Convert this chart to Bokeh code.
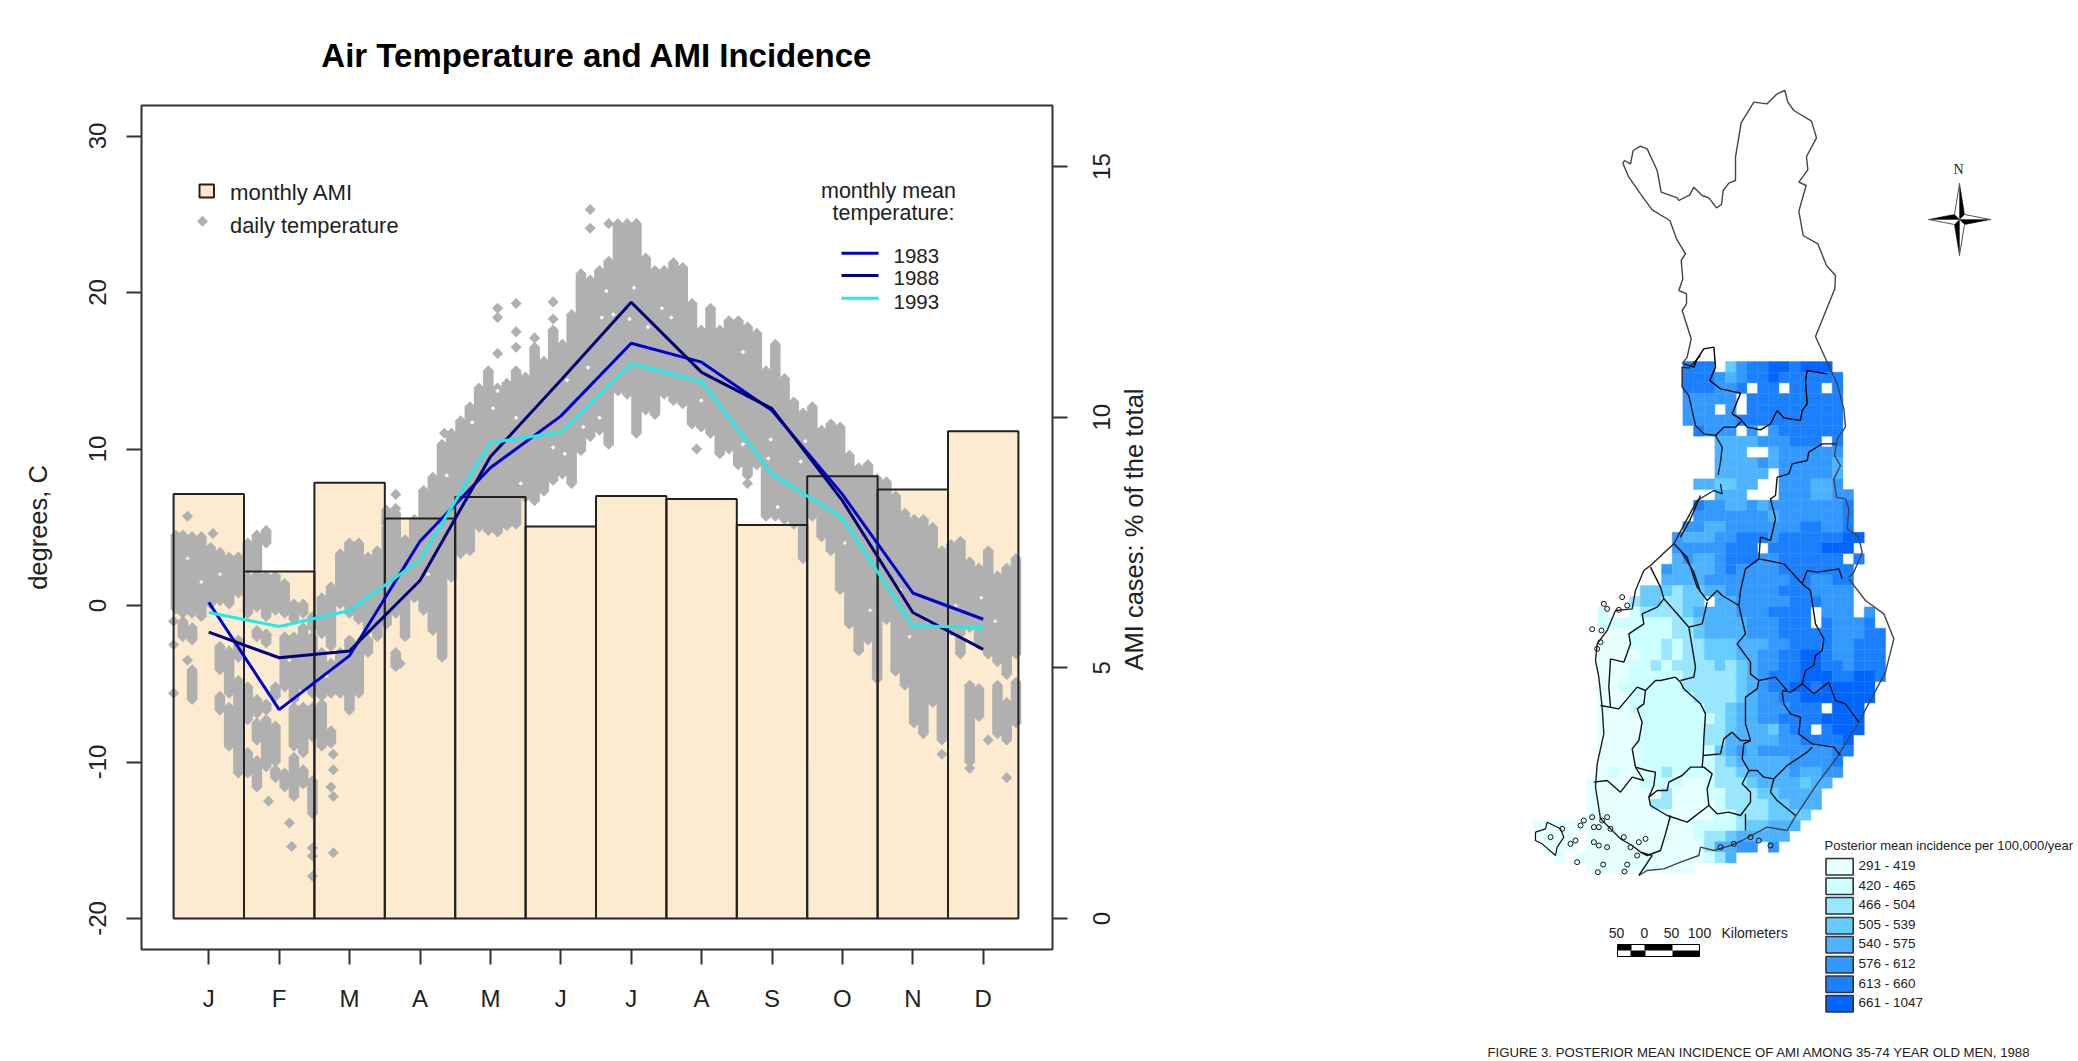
from math import pi
from bokeh.embed import file_html
from bokeh.layouts import row
from bokeh.models import ColumnDataSource, FixedTicker, LinearAxis, Range1d, Label
from bokeh.plotting import figure
from bokeh.resources import INLINE

SANS = "Liberation Sans"

# ---------------------------------------------------------------- left chart data
months = ["J", "F", "M", "A", "M", "J", "J", "A", "S", "O", "N", "D"]
month_no = list(range(1, 13))
ami_pct = [8.47, 6.92, 8.69, 7.98, 8.41, 7.82, 8.43, 8.37, 7.85, 8.82, 8.56, 9.72]
ami_ticks = [0, 5, 10, 15]
t1983 = [0.2, -6.65, -3.2, 4.1, 8.8, 12.1, 16.76, 15.55, 12.46, 7.1, 0.8, -0.88]
t1988 = [-1.7, -3.34, -2.9, 1.6, 9.5, 14.4, 19.38, 14.9, 12.58, 6.7, -0.45, -2.8]
t1993 = [-0.45, -1.34, -0.32, 2.9, 10.4, 11.07, 15.45, 14.3, 8.4, 5.6, -1.3, -1.4]

# daily temperature cloud: (day of year, warmest, coldest) for each contiguous run of points
runs_jan = [(1, 4.5, -.2), (4, 4.5, -.5), (4, -1, -2), (8, 4.4, -.5), (8, -1.4, -2.2), (8, -4.1, -6),
            (12, 4.4, -.7), (16, 3.7, .1), (20, 3.4, .3), (20, -2.6, -4.1), (20, -5.8, -6.7),
            (24, 3.1, .1), (24, -2.9, -5.6), (24, -6.5, -9), (28, 3.1, .8), (28, -2.2, -3.3), (28, -4.8, -10.7)]
runs_feb = [(32, 4, 2.3), (32, 1.8, -.5), (32, -5.2, -7.3), (32, -9.4, -10.7), (36, 4.5, 2.3), (36, 2, -.1),
            (36, -1.6, -2), (36, -6, -6.9), (36, -7.5, -8.6), (36, -9.9, -11.6), (40, 4.8, 4), (40, 1.9, -.7),
            (40, -1.8, -2.4), (40, -6.3, -6.7), (40, -7.3, -10.3), (44, 1.9, -.3), (44, -5.2, -5.8),
            (44, -7.7, -10), (44, -10.5, -11), (48, 1.4, -.5), (48, -2, -5.2), (48, -10.7, -11.6),
            (52, .1, -.9), (52, -2, -6), (52, -6.5, -9), (52, -9.7, -12.2), (56, .1, -.5), (56, -1.4, -5.2),
            (56, -6.5, -9.4), (56, -10.5, -11.4)]
runs_mar = [(60, -.7, -1.4), (60, -2, -5.6), (60, -6.5, -8.4), (60, -11.2, -13.3), (64, .5, -1.8), (64, -3, -5.8),
            (64, -6.3, -9), (68, 1.2, -2.6), (68, -3.7, -5.6), (68, -8, -8.8), (72, 3.3, .1), (72, -3, -5.6),
            (76, 4, -.5), (76, -2.2, -6.7), (80, 4, -.9), (80, -2.4, -5.6), (84, 3.1, -1.6), (84, -2.2, -3),
            (88, 3.5, -2)]
runs_apr = [(92, 6.1, 5.2), (92, 5, -1.2), (96, 5.9, -.5), (96, -3, -3.9), (100, 4.2, -2), (104, 5.5, .5),
            (108, 7.35, -.3), (112, 8.2, -1.6), (116, 10.3, -3.3), (120, 11, 1.8)]
runs_may = [(124, 11.8, 3.3), (128, 12.7, 3.5), (132, 13.9, 5), (136, 15, 4.8), (140, 13.9, 4.7), (144, 14.2, 5.1),
            (148, 15, 5.2)]
runs_jun = [(152, 14.6, 6.9), (156, 16.5, 6.7), (160, 15.6, 7.3), (164, 17.6, 8), (168, 16.7, 8.4), (172, 18.6, 7.8),
            (176, 21.2, 9.9), (180, 20.8, 10.8)]
runs_jul = [(184, 21.4, 11.2), (188, 22, 10.3), (192, 24.4, 13.7), (196, 24.4, 13.5), (200, 24.4, 11), (204, 22.2, 12.5),
            (208, 21.4, 12.2), (212, 21.4, 13.5)]
runs_aug = [(216, 21.9, 13.1), (220, 21.6, 12.9), (224, 19.3, 11.6), (228, 17.6, 11.4), (232, 19, 11), (236, 17.6, 9.7),
            (240, 18.2, 10)]
runs_sep = [(244, 18.2, 9), (248, 17.8, 8.3), (252, 17.4, 9), (256, 15, 5.7), (260, 16.7, 5.7), (264, 14.5, 5.5),
            (268, 13, 5.2), (272, 12.3, 3)]
runs_oct = [(276, 12.7, 5.7), (280, 11.2, 4.4), (284, 11.6, 3.5), (288, 11.4, 1), (292, 9.6, -1.2), (296, 8.8, -2.9),
            (300, 9, -2.2), (304, 8.1, -4.7)]
runs_nov = [(308, 7.9, -.9), (312, 7, -4.2), (316, 5.9, -5.1), (320, 5.5, -7.5), (324, 5.5, -8.2), (328, 5, -6.2),
            (332, 3.5, -8.6)]
runs_dec = [(336, 3.9, -1.6), (340, 4.1, -3.1), (344, 2.8, -1.4), (344, -5.1, -10), (348, 2.4, -2.5), (348, -5.3, -7.1),
            (352, 3.5, -3.1), (356, 1.9, -3.6), (356, -5.1, -8.2), (360, 2.4, -4.4), (360, -6.2, -8.6), (364, 3, -3.1),
            (364, -4.9, -7.5)]
# single days standing apart from the cloud
lone_day = [6, 6, 17, 0, 0, 0, 41, 50, 51, 60, 60, 60, 69, 69, 68, 69, 69, 96, 96, 98, 117,
            140, 140, 140, 148, 148, 148, 156, 164, 164, 180, 180, 188, 226, 248, 332, 344, 352, 360]
lone_t = [5.7, -3.5, 4.6, -1, -2.5, -5.6, -12.5, -13.9, -15.4, -15.5, -16, -17.3, -9.5, -10.5, -11.6, -12.2, -15.8,
          7.1, 6.2, -3.7, 11, 19, 18.4, 16.1, 19.3, 17.5, 16.5, 17.1, 19.4, 18.3, 24.1, 25.3, 24.4, 10, 7.8, -9.5, -10.4, -8.6, -11]
# small gaps seen inside the cloud, above the bars (white) and over the bars (bar colour)
gap_day = [187, 185, 190, 179, 170, 138, 140, 148, 129, 118, 150, 164, 169, 177, 184, 197, 199, 205, 211, 215, 228,
           246, 258, 246, 257, 271, 273, 261]
gap_t = [20.1, 18.4, 18.6, 15.2, 14.4, 12.6, 13.7, 12, 11.7, 8.3, 7.8, 10.1, 9.7, 11.4, 12, 18.3, 20.3, 17.8, 19, 18.4, 13.1,
         16.2, 10.6, 10.3, 9.4, 9.2, 10.5, 6.3]
gap_day_bar = [290, 301, 318, 338, 349, 355, 20, 12, 6, 50, 66, 110, 314, 326, 342]
gap_t_bar = [4, -.3, -2, 0, .5, -1, 2, 1.5, 3, -3.5, -4.5, 2, 1, -1, -2]

# ---------------------------------------------------------------- right map data
class_colors = ["#E6FFFF", "#CCFFFF", "#99E6FF", "#66CCFF", "#4DB3FF", "#3399FF", "#1A80FF", "#0066FF"]
class_labels = ["291 - 419", "420 - 465", "466 - 504", "505 - 539", "540 - 575", "576 - 612", "613 - 660", "661 - 1047"]
grid_rows = [
    "..............777.4677887888",
    "..............777656778777777",
    "..............777667.77.777.7",
    "..............66666.777777777",
    "..............666.6.777777777",
    "..............666667777777777",
    "...............7666.6.6777777",
    ".................5555666777.7",
    ".................555..5666666",
    ".................555565666665",
    ".................55555.666665",
    "...............554455..666556",
    ".................555...6665566",
    "...............766556566666667",
    "...............666666656666667",
    "..............6655666666677667",
    ".............655566777677777788",
    ".............66666777.77777888",
    ".............5655677766777777.7",
    "............655556766667777777",
    "............555566666666776677",
    "..........44434455666667776666",
    ".........3443344.5566666777666",
    "......2..23333455556667777.666.6",
    "......22222223345555666777.76667",
    ".......11222233455556667777766677",
    "......111222323344455566777766777",
    "......111122323344455667788766777",
    "......111223233334345667788776777",
    "......111222223333345677788877887",
    "......11222222333334567788788888",
    "......11122222233334566778888888",
    "......111222222233455666777.888",
    "......1111222222234556677778888",
    "......11112222223345554677.7888",
    "......111122222233555556677778",
    "......111122222224565666666677",
    "......11112222222345555566667",
    "......12111232222334555565566",
    ".....11111222211233345555455",
    ".....1111111311122333445555",
    ".....1111113311112333344555",
    ".....111111111111223334444",
    "1111111111111112222344555",
    "1111.1111111111233455555",
    ".111.1111111111135566.6",
    "..1.111111111111235",
    ".....1111111111",
]
grid_x0, grid_y0, grid_cell = 1533.0, 361.0, 10.67

# outlines: crop-local points and the crop's origin (map units are 1/3 of a crop unit)
finland_north = [(395, 850), (410, 830), (422, 775), (395, 690), (408, 670), (408, 640), (385, 630), (397, 595), (392, 540),
                 (405, 520), (378, 475), (358, 420), (305, 388), (270, 340), (235, 290), (217, 248), (222, 240), (240, 250),
                 (248, 210), (270, 197), (290, 205), (320, 270), (332, 335), (380, 352), (385, 360), (418, 343), (430, 320),
                 (455, 345), (475, 352), (498, 382), (513, 372), (518, 330), (535, 308), (555, 300), (555, 230), (572, 127),
                 (610, 65), (650, 70), (680, 40), (703, 30), (712, 65), (730, 90), (783, 122), (798, 172), (768, 228),
                 (772, 268), (745, 305), (767, 315), (745, 392), (758, 465), (802, 490), (828, 555), (855, 585), (853, 625),
                 (795, 768), (830, 845), (860, 910), (880, 985), (885, 1040)]
finland_east = [(495, 215), (470, 250), (462, 300), (480, 330), (460, 370), (468, 425), (495, 430), (505, 460), (500, 520),
                (535, 545), (545, 590), (520, 650), (505, 665)]
finland_south = [(1045, 295), (1095, 360), (1150, 400), (1180, 475), (1155, 575), (1075, 725), (1010, 830), (950, 910),
                 (880, 1015), (860, 1050), (800, 1040), (725, 1080), (690, 1095), (640, 1110), (600, 1100), (595, 1125),
                 (540, 1145), (490, 1165), (440, 1170), (415, 1185)]
finland_west = [(415, 1185), (455, 1125), (420, 1115), (395, 1095), (360, 1075), (300, 1015), (285, 920), (290, 850), (310, 760),
                (305, 680), (295, 590), (285, 540), (290, 490), (320, 450), (345, 390), (395, 385), (405, 330), (430, 270),
                (450, 255), (520, 190), (560, 115), (590, 60), (640, 30), (665, 40), (660, 10)]
finland_nw = [(113, 358), (120, 320), (125, 275), (105, 240), (70, 235), (45, 210), (25, 120), (5, 95), (5, 35), (25, 38),
              (60, 0)]
lapland_z4 = [(400, 850), (430, 860), (440, 835), (460, 805), (490, 800), (495, 860), (478, 900), (510, 925), (570, 938), (545, 1000),
              (570, 1015), (590, 1040), (630, 1048), (660, 1030), (680, 990), (700, 1012), (750, 1020), (755, 990), (770, 970),
              (765, 900), (770, 870), (830, 880)]
borders_z10 = [[(105, 240), (130, 215), (165, 215), (185, 195)],
               [(235, 610), (240, 545), (270, 555), (285, 490), (270, 430), (285, 420), (290, 365), (325, 355), (335, 325), (380, 315),
                (385, 290), (425, 265), (465, 265)],
               [(60, 420), (30, 490), (0, 545)],
               [(0, 585), (40, 650), (60, 710)]]
borders_z5 = [[(520, 190), (560, 230), (590, 320), (620, 360), (650, 330), (665, 345), (715, 375), (720, 330), (735, 265), (775, 235)],
              [(775, 235), (850, 250), (905, 310), (920, 270), (950, 275), (1015, 265), (1025, 295)],
              [(905, 310), (930, 330), (945, 430), (970, 475), (965, 510), (945, 525), (940, 555), (915, 570), (905, 610), (885, 625),
               (870, 635), (845, 630)],
              [(715, 375), (735, 460), (710, 490), (750, 545), (750, 580), (775, 600), (825, 590), (860, 630)],
              [(775, 600), (770, 625), (735, 650), (735, 730), (750, 780)],
              [(845, 635), (850, 670), (870, 700), (900, 710), (895, 760), (935, 790), (1000, 800), (1020, 825)],
              [(905, 610), (940, 640), (985, 605), (1005, 660), (1035, 670), (1075, 725)],
              [(935, 800), (920, 815), (860, 855), (820, 895), (790, 890), (770, 870), (745, 870), (725, 835), (730, 790), (750, 780)],
              [(820, 895), (810, 935), (830, 960), (885, 1005)],
              [(745, 870), (725, 910), (750, 935), (750, 965), (720, 1005), (685, 995), (650, 1000), (625, 975), (620, 925), (635, 880),
               (610, 860), (570, 860), (545, 885), (505, 905), (500, 930), (470, 930), (445, 950), (450, 975), (500, 1005), (560, 1025),
               (625, 975)],
              [(735, 1000), (735, 1050)],
              [(605, 860), (608, 825), (660, 820), (670, 775), (695, 755), (720, 780), (750, 780)],
              [(608, 825), (610, 775), (615, 700), (600, 670), (550, 625), (540, 605), (525, 590), (480, 600), (465, 600), (435, 630),
               (410, 620), (355, 685), (300, 675)],
              [(435, 630), (430, 670), (410, 685), (425, 725), (415, 780), (395, 805), (405, 860), (440, 870), (465, 875), (460, 915),
               (445, 950)],
              [(405, 860), (430, 900), (395, 890), (360, 935), (320, 900), (280, 905)],
              [(330, 535), (325, 620), (330, 680)],
              [(330, 535), (370, 545), (390, 490), (385, 460), (430, 430), (425, 400), (470, 380), (490, 355), (530, 400), (565, 440), (605, 430)],
              [(450, 260), (480, 320), (490, 355)],
              [(565, 440), (585, 560), (580, 590), (540, 600)],
              [(605, 430), (620, 365)],
              [(510, 1005), (495, 1060), (480, 1110), (440, 1125), (420, 1115)]]
aland_z11 = [(15, 755), (45, 745), (50, 725), (90, 745), (100, 770), (80, 800), (75, 825), (35, 790), (15, 780), (15, 755)]
islands_z11 = [(185, 146), (213, 150), (210, 185), (200, 205), (220, 70), (230, 85), (275, 50), (290, 75), (265, 88), (140, 845),
               (218, 852), (202, 875), (282, 873), (290, 852), (230, 710), (160, 720), (185, 710), (190, 740), (205, 740), (240, 745),
               (135, 780), (120, 790), (190, 785), (205, 795), (230, 800), (280, 770), (325, 785), (345, 775), (320, 825), (570, 800),
               (610, 790), (660, 770), (720, 795), (685, 780), (95, 745), (60, 770), (150, 735), (215, 720), (300, 800)]

# ---------------------------------------------------------------- left chart
FRAME = (141, 1052, 105, 949)        # left, right, top, bottom of the frame on the page
TOTAL_W, TOTAL_H, LEFT_W = 2078, 1061, 1072


def X(px):
    return 1 + (px - 208.3) / 70.4


def Y(py):
    return (605 - py) / 15.65


def month_pos(day):
    return 0.5 + day / 30.42


p = figure(width=LEFT_W, height=TOTAL_H, output_backend="svg", toolbar_location=None,
           x_range=Range1d(X(FRAME[0]), X(FRAME[1])), y_range=Range1d(Y(FRAME[3]), Y(FRAME[2])),
           min_border_left=FRAME[0], min_border_right=LEFT_W - FRAME[1],
           min_border_top=FRAME[2], min_border_bottom=TOTAL_H - FRAME[3],
           x_axis_type=None, y_axis_type=None, background_fill_color="white", border_fill_color="white")
p.frame_align = False
p.outline_line_color = "#333333"
p.outline_line_width = 2
p.grid.visible = False
p.title.text = "Air Temperature and AMI Incidence"
p.title.text_font = SANS
p.title.text_font_size = "33px"
p.title.text_font_style = "bold"
p.title.align = "center"
p.title.standoff = 64
p.title.text_color = "black"

p.extra_y_ranges = {"ami": Range1d(-31 / 50.13, (918 - 105) / 50.13)}


def style_axis(a):
    a.axis_line_color = None
    a.major_tick_line_color = "#333333"
    a.major_tick_line_width = 2
    a.major_tick_in = 0
    a.major_tick_out = 15
    a.minor_tick_line_color = None
    a.major_label_text_font = SANS
    a.major_label_text_font_size = "24px"
    a.major_label_text_color = "#222222"
    a.axis_label_text_font = SANS
    a.axis_label_text_font_size = "25.5px"
    a.axis_label_text_font_style = "normal"
    a.axis_label_text_color = "#222222"


temp_ticks = [-20, -10, 0, 10, 20, 30]
ax_left = LinearAxis(ticker=FixedTicker(ticks=temp_ticks), axis_label="degrees, C",
                     major_label_overrides={t: str(t) for t in temp_ticks},
                     major_label_orientation="vertical", major_label_standoff=21, axis_label_standoff=34)
ax_right = LinearAxis(y_range_name="ami", ticker=FixedTicker(ticks=ami_ticks),
                      major_label_overrides={t: "" for t in ami_ticks}, major_label_standoff=0)
ax_bottom = LinearAxis(ticker=FixedTicker(ticks=month_no), major_label_overrides={m: s for m, s in zip(month_no, months)},
                       major_label_standoff=20)
for a in (ax_left, ax_right, ax_bottom):
    style_axis(a)
p.add_layout(ax_left, "left")
p.add_layout(ax_right, "right")
p.add_layout(ax_bottom, "below")

BAR = "#FDEBD0"
GRAY = "#B0B0B0"
p.vbar(x=month_no, top=ami_pct, bottom=0, width=1, y_range_name="ami", fill_color=BAR, line_color=None)

runs = (runs_jan + runs_feb + runs_mar + runs_apr + runs_may + runs_jun + runs_jul + runs_aug + runs_sep
        + runs_oct + runs_nov + runs_dec)
run_x = [month_pos(r[0]) for r in runs]
run_hi = [r[1] for r in runs]
run_lo = [r[2] for r in runs]
p.segment(x0=run_x, y0=run_hi, x1=run_x, y1=run_lo, line_color=GRAY, line_width=10.5, line_cap="butt")
ends_x = run_x + run_x + [month_pos(d) for d in lone_day]
ends_y = run_hi + run_lo + lone_t
p.scatter(x=ends_x, y=ends_y, marker="square", size=7.8, angle=pi / 4, fill_color=GRAY, line_color=None)
p.scatter(x=[month_pos(d) for d in gap_day], y=gap_t, marker="square", size=3.2, angle=pi / 4, fill_color="white", line_color=None)
p.scatter(x=[month_pos(d) for d in gap_day_bar], y=gap_t_bar, marker="square", size=3.2, angle=pi / 4, fill_color=BAR, line_color=None)

p.vbar(x=month_no, top=ami_pct, bottom=0, width=1, y_range_name="ami", fill_color=None, line_color="#222222", line_width=2)

p.line(month_no, t1983, line_color="#0000CD", line_width=3)
p.line(month_no, t1988, line_color="#000078", line_width=3)
p.line(month_no, t1993, line_color="#1FEBEB", line_width=3)


def note(fig, x, y, text, size, font=SANS, align="left", color="#222222", style="normal", angle=0.0):
    fig.add_layout(Label(x=x, y=y, text=text, text_font=font, text_font_size=size, text_align=align, angle=angle,
                         text_baseline="middle", text_color=color, text_font_style=style))


# legends
p.quad(left=[X(199)], right=[X(213.5)], top=[Y(184)], bottom=[Y(197)], fill_color=BAR, line_color="#222222", line_width=2)
p.scatter(x=[X(202)], y=[Y(220.7)], marker="square", size=7.8, angle=pi / 4, fill_color=GRAY, line_color=None)
note(p, X(229.6), Y(192), "monthly AMI", "22.2px")
note(p, X(229.6), Y(225), "daily temperature", "21.8px")
note(p, X(888), Y(190), "monthly mean", "21.5px", align="center")
note(p, X(893), Y(212), "temperature:", "21.5px", align="center")
for yy_line, yy_text, yr, col in [(252.7, 255, "1983", "#0000CD"), (275, 277, "1988", "#000078"), (297.7, 301, "1993", "#1FEBEB")]:
    p.line([X(841), X(878)], [Y(yy_line), Y(yy_line)], line_color=col, line_width=3)
    note(p, X(893), Y(yy_text), yr, "20.5px")

# ---------------------------------------------------------------- right part: the left chart's right-axis texts, then the map
RIGHT_W = TOTAL_W - LEFT_W
m = figure(width=RIGHT_W, height=TOTAL_H, output_backend="svg", toolbar_location=None,
           x_range=Range1d(LEFT_W, TOTAL_W), y_range=Range1d(TOTAL_H, 0),
           x_axis_type=None, y_axis_type=None, min_border=0, background_fill_color="white", border_fill_color="white")
m.frame_align = False
m.outline_line_color = None
m.grid.visible = False

# right axis tick labels read upward, as on the left axis
for v in ami_ticks:
    note(m, 1101, 918 - 50.13 * v, str(v), "24px", align="center", angle=pi / 2)
note(m, 1133, 529, "AMI cases: % of the total", "25.5px", align="center", angle=pi / 2)

cell_l, cell_r, cell_t, cell_b, cell_c = [], [], [], [], []
for r, text in enumerate(grid_rows):
    for c, ch in enumerate(text):
        if ch == ".":
            continue
        cell_l.append(grid_x0 + c * grid_cell)
        cell_r.append(grid_x0 + (c + 1) * grid_cell)
        cell_t.append(grid_y0 + r * grid_cell)
        cell_b.append(grid_y0 + (r + 1) * grid_cell)
        cell_c.append(class_colors[int(ch) - 1])
m.quad(source=ColumnDataSource(dict(l=cell_l, r=cell_r, t=cell_t, b=cell_b, c=cell_c)),
       left="l", right="r", top="t", bottom="b", fill_color="c", line_color="c", line_width=0.4)


def crop(points, ox, oy):
    return [ox + q[0] / 3 for q in points], [oy + q[1] / 3 for q in points]


Z4, Z5, Z10, Z11 = (1550, 80), (1500, 480), (1680, 355), (1530, 580)
for pts, o, col in [(finland_north, Z4, "#444444"), (finland_east, Z10, "#444444"), (finland_south, Z5, "#444444"),
                    (finland_west, Z5, "#222222"), (finland_nw, Z10, "#222222"), (lapland_z4, Z4, "black")]:
    xs, ys = crop(pts, *o)
    m.line(xs, ys, line_color=col, line_width=1.4)
for b in borders_z10:
    xs, ys = crop(b, *Z10)
    m.line(xs, ys, line_color="#111111", line_width=1.4)
for b in borders_z5:
    xs, ys = crop(b, *Z5)
    m.line(xs, ys, line_color="#111111", line_width=1.4)
xs, ys = crop(aland_z11, *Z11)
m.line(xs, ys, line_color="#111111", line_width=1.2)
xs, ys = crop(islands_z11, *Z11)
m.scatter(xs, ys, marker="circle", size=5, fill_color=None, line_color="#111111", line_width=1)

# compass
cx, cy = 1959, 219
for a, b in [((0, -36), (5, -5)), ((31, 0), (5, 5)), ((0, 36), (-5, 5)), ((-31, 0), (-5, -5))]:
    m.patch([cx + a[0], cx + b[0], cx], [cy + a[1], cy + b[1], cy], fill_color="black", line_color="black", line_width=0.6)
for a, b in [((0, -36), (-5, -5)), ((31, 0), (5, -5)), ((0, 36), (5, 5)), ((-31, 0), (-5, 5))]:
    m.patch([cx + a[0], cx + b[0], cx], [cy + a[1], cy + b[1], cy], fill_color="white", line_color="#555555", line_width=1)
note(m, 1958, 169, "N", "14px", font="Liberation Serif", align="center")

# map legend
note(m, 1824, 845, "Posterior mean incidence per 100,000/year", "13px")
leg_tops = [858, 877.5, 897, 917, 936, 956, 975.5, 995]
for t_, col, lab in zip(leg_tops, class_colors, class_labels):
    m.quad(left=[1825.5], right=[1852.7], top=[t_], bottom=[t_ + 16.5], fill_color=col, line_color="#333333", line_width=1.6)
    note(m, 1858, t_ + 7, lab, "13.5px")

# scale bar
scale_vals = ["50", "0", "50", "100"]
for lab, x_ in zip(scale_vals, [1616, 1644, 1671, 1699]):
    note(m, x_, 932, lab, "14px", align="center")
note(m, 1721, 932, "Kilometers", "14px")
m.quad(left=[1617], right=[1699], top=[944], bottom=[956], fill_color="white", line_color="black", line_width=1)
m.quad(left=[1617, 1644, 1630, 1672], right=[1631, 1672, 1645, 1699], top=[944, 944, 950, 950], bottom=[950, 950, 956, 956],
       fill_color="black", line_color=None)

note(m, 1487, 1052, "FIGURE 3. POSTERIOR MEAN INCIDENCE OF AMI AMONG 35-74 YEAR OLD MEN, 1988", "13.2px")

layout = row(p, m, spacing=0)
open("out.html", "w").write(file_html(layout, INLINE))
